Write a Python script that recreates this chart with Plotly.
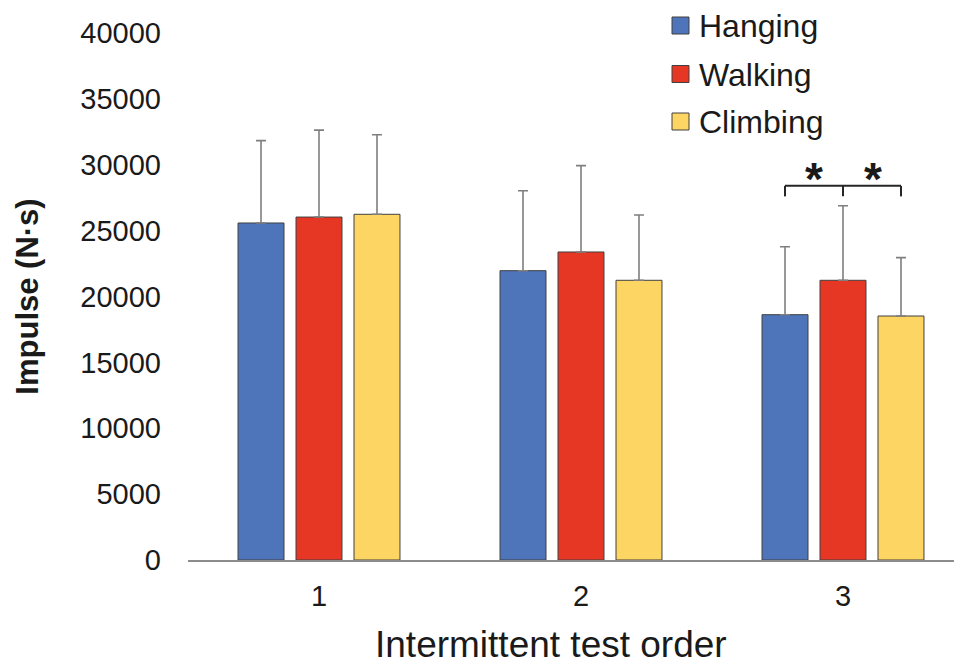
import plotly.graph_objects as go

categories = ["1", "2", "3"]
series_names = ["Hanging", "Walking", "Climbing"]
hanging = [25580, 21960, 18620]
walking = [26030, 23380, 21230]
climbing = [26240, 21230, 18520]
hanging_sd = [6250, 6070, 5160]
walking_sd = [6600, 6550, 5660]
climbing_sd = [6040, 4960, 4430]
y_ticks = [0, 5000, 10000, 15000, 20000, 25000, 30000, 35000, 40000]
x_title = "Intermittent test order"
y_title = "Impulse (N·s)"

# significance bracket (group 3: Hanging vs Walking, Walking vs Climbing)
sig_group = 2
bracket_y = 28400
bracket_tick_y = 27600
star_y = 28900

colors = ["#4E74BA", "#E63624", "#FDD563"]
values = [hanging, walking, climbing]
sds = [hanging_sd, walking_sd, climbing_sd]

FONT = "Arial, Liberation Sans, sans-serif"
TXT = "#1a1a1a"
# page body has an 8px margin, so the figure is drawn at (8, 8)
W, H = 954, 656
ML, MR, MT, MB = 180, 0, 25, 104
plot_w = W - ML - MR
plot_h = H - MT - MB
bargap = 0.336
bargroupgap = 0.207


def px_x(fx):
    return (fx - ML) / plot_w


def px_y(fy):
    return 1 - (fy - MT) / plot_h


fig = go.Figure()
for name, vals, err, col in zip(series_names, values, sds, colors):
    fig.add_trace(go.Bar(
        x=categories, y=vals, name=name, showlegend=False,
        marker=dict(color=col, line=dict(color="#404040", width=1)),
        error_y=dict(type="data", array=err, arrayminus=[0] * len(err),
                     symmetric=False, color="#7F7F7F", thickness=1.6, width=5),
    ))

# legend drawn as swatches + labels (top-right, tight to the top edge)
sw = 17
sw_left = 664
text_left = 689
row_y = [17.5, 66, 113.5]
for name, col, cy in zip(series_names, colors, row_y):
    fig.add_shape(type="rect", xref="paper", yref="paper",
                  x0=px_x(sw_left), x1=px_x(sw_left + sw),
                  y0=px_y(cy + sw / 2), y1=px_y(cy - sw / 2),
                  fillcolor=col, line=dict(color="#404040", width=1))
    fig.add_annotation(xref="paper", yref="paper", x=px_x(text_left), y=px_y(cy + 1),
                       text=name, showarrow=False, xanchor="left", yanchor="middle",
                       font=dict(family=FONT, size=32, color=TXT))

# x range so that the plot area is clipped at the right edge like the reference
slot_px = 262
x_max = plot_w / slot_px - 0.5

# bar offset within group (centre of outer bars relative to group centre)
group_w = 1 - bargap
offset = group_w / 3

x_left = sig_group - offset
x_right = sig_group + offset
line_style = dict(color="#262626", width=2)
fig.add_shape(type="line", xref="x", yref="y", x0=x_left, x1=x_right,
              y0=bracket_y, y1=bracket_y, line=line_style)
for xx in [x_left, sig_group, x_right]:
    fig.add_shape(type="line", xref="x", yref="y", x0=xx, x1=xx,
                  y0=bracket_y, y1=bracket_tick_y, line=line_style)
for xx in [(x_left + sig_group) / 2, (x_right + sig_group) / 2 + 0.003]:
    fig.add_annotation(x=xx, y=star_y, xref="x", yref="y", text="<b>*</b>",
                       showarrow=False, font=dict(family=FONT, size=46, color=TXT),
                       yanchor="middle")

# x-axis title (centred slightly left of the plot centre, as in the reference)
fig.add_annotation(xref="paper", yref="paper", x=px_x(543), y=px_y(636),
                   text=x_title, showarrow=False, xanchor="center", yanchor="middle",
                   font=dict(family=FONT, size=37, color=TXT))

fig.update_layout(
    width=W, height=H,
    margin=dict(l=ML, r=MR, t=MT, b=MB, autoexpand=False),
    paper_bgcolor="white", plot_bgcolor="white",
    barmode="group", bargap=bargap, bargroupgap=bargroupgap,
    font=dict(family=FONT, color=TXT),
    showlegend=False,
    xaxis=dict(type="category", range=[-0.5, x_max], showline=True,
               linecolor="#8C8C8C", linewidth=1.5, ticks="", showgrid=False,
               tickfont=dict(family=FONT, size=29, color=TXT),
               ticklabelstandoff=9),
    yaxis=dict(range=[0, 40000], tickvals=y_ticks,
               ticktext=[str(v) for v in y_ticks], showline=False,
               showgrid=False, zeroline=False, ticks="",
               tickfont=dict(family=FONT, size=29, color=TXT),
               ticklabelstandoff=26,
               title=dict(text="<b>" + y_title + "</b>", standoff=32,
                          font=dict(family=FONT, size=31, color=TXT))),
)

fig.write_html("out.html")
